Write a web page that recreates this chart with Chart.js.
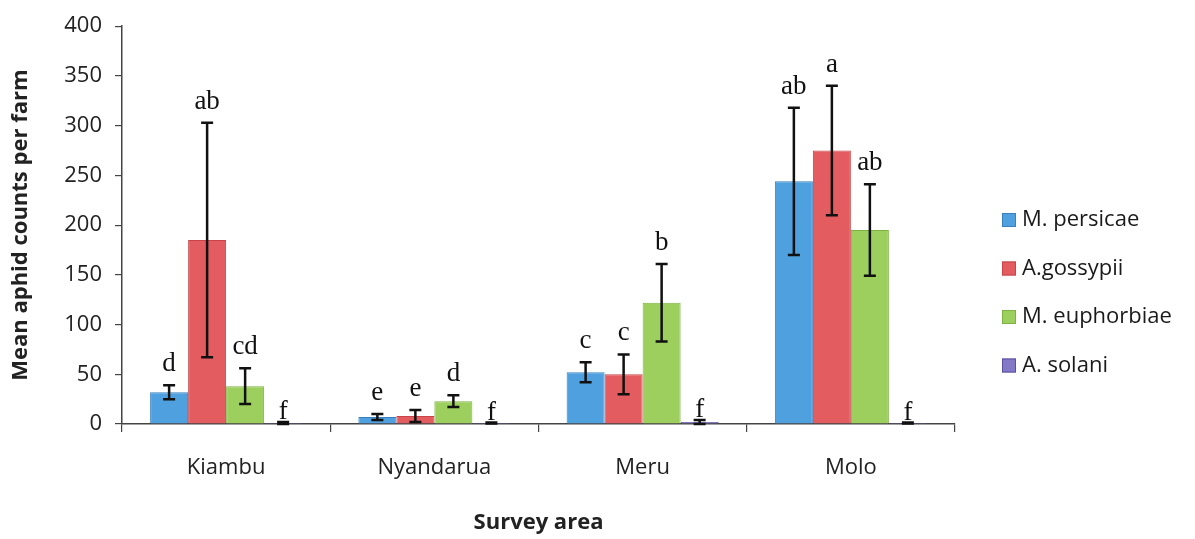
<!DOCTYPE html>
<html>
<head>
<meta charset="utf-8">
<script src="https://cdn.jsdelivr.net/npm/chart.js@4/dist/chart.umd.min.js"></script>
<style>
  html, body { margin: 0; padding: 0; background: #fff; }
  #wrap { width: 1195px; height: 539px; }
</style>
</head>
<body>
<div id="wrap"><canvas id="c" width="1195" height="539"></canvas></div>
<script>
// Survey areas
const categories = ['Kiambu', 'Nyandarua', 'Meru', 'Molo'];

// Mean aphid counts per farm by species
const persicae   = [32, 7, 52, 244];
const gossypii   = [185, 8, 50, 275];
const euphorbiae = [38, 23, 122, 195];
const solani     = [1, 1, 2, 1];

// Standard errors
const persicaeErr   = [7, 3, 10, 74];
const gossypiiErr   = [118, 6, 20, 65];
const euphorbiaeErr = [18, 6, 39, 46];
const solaniErr     = [1, 0.5, 2, 0.5];

// Mean separation letters
const persicaeLetters   = ['d', 'e', 'c', 'ab'];
const gossypiiLetters   = ['ab', 'e', 'c', 'a'];
const euphorbiaeLetters = ['cd', 'd', 'b', 'ab'];
const solaniLetters     = ['f', 'f', 'f', 'f'];

// Y axis ticks
const yTicks = [0, 50, 100, 150, 200, 250, 300, 350, 400];

const SANS = '"Open Sans", Lato, sans-serif';
const SERIF = '"Liberation Serif", "DejaVu Serif", serif';

function series(label, data, err, letters, fill, edge, gap) {
  return {
    label, data, err, letters, gap,
    backgroundColor: fill,
    borderColor: edge,
    borderWidth: 1,
    categoryPercentage: 0.73,
    barPercentage: 1.0
  };
}

const datasets = [
  series('M. persicae', persicae, persicaeErr, persicaeLetters, '#4fa0de', '#3a80bf', 14),
  series('A.gossypii', gossypii, gossypiiErr, gossypiiLetters, '#e25c60', '#c84448', 14),
  series('M. euphorbiae', euphorbiae, euphorbiaeErr, euphorbiaeLetters, '#9ccf5e', '#7fb245', 14),
  series('A. solani', solani, solaniErr, solaniLetters, '#8479c6', '#5a4fa0', 3)
];

// Error bars and letters above each bar
const errorBars = {
  id: 'errorBars',
  afterDatasetsDraw(chart) {
    const ctx = chart.ctx;
    const y = chart.scales.y;
    ctx.save();
    chart.data.datasets.forEach((ds, di) => {
      const meta = chart.getDatasetMeta(di);
      meta.data.forEach((bar, i) => {
        const v = ds.data[i], e = ds.err[i];
        const yTop = y.getPixelForValue(v + e);
        const yBot = y.getPixelForValue(Math.max(v - e, 0));
        const x = bar.x;
        ctx.strokeStyle = '#111';
        ctx.lineWidth = 2.5;
        ctx.beginPath();
        ctx.moveTo(x, yTop); ctx.lineTo(x, yBot);
        ctx.moveTo(x - 6, yTop); ctx.lineTo(x + 6, yTop);
        ctx.moveTo(x - 6, yBot); ctx.lineTo(x + 6, yBot);
        ctx.stroke();
        ctx.fillStyle = '#111';
        ctx.font = '27px ' + SERIF;
        ctx.textAlign = 'center';
        ctx.textBaseline = 'alphabetic';
        ctx.fillText(ds.letters[i], x, yTop - ds.gap);
      });
    });
    ctx.restore();
  }
};

// Legend column on the right
const sideLegend = {
  id: 'sideLegend',
  afterDraw(chart) {
    const ctx = chart.ctx;
    ctx.save();
    chart.data.datasets.forEach((ds, i) => {
      const cy = 220 + i * 48.5;
      ctx.fillStyle = ds.backgroundColor;
      ctx.fillRect(1002, cy - 7, 14, 14);
      ctx.strokeStyle = ds.borderColor;
      ctx.lineWidth = 1;
      ctx.strokeRect(1002.5, cy - 6.5, 13, 13);
      ctx.fillStyle = '#1a1a1a';
      ctx.font = '22px ' + SANS;
      ctx.textAlign = 'left';
      ctx.textBaseline = 'middle';
      ctx.fillText(ds.label, 1022, cy);
    });
    ctx.restore();
  }
};

new Chart(document.getElementById('c'), {
  type: 'bar',
  data: { labels: categories, datasets },
  options: {
    responsive: false,
    animation: false,
    layout: { padding: { top: 24, right: 240, left: 0, bottom: 0 } },
    plugins: {
      legend: { display: false },
      tooltip: { enabled: false }
    },
    scales: {
      x: {
        afterFit(s) { s.height = 115; },
        grid: { display: true, drawOnChartArea: false, offset: true, tickLength: 8, color: '#444', lineWidth: 1.2 },
        border: { display: true, color: '#444', width: 1.5 },
        ticks: { padding: 23, color: '#222', font: { family: SANS, size: 22 } },
        title: { display: true, text: 'Survey area', color: '#222', padding: { top: 0, bottom: 3 },
                 font: { family: SANS, size: 22, weight: 'bold' } }
      },
      y: {
        min: 0, max: 400,
        afterFit(s) { s.width = 122; },
        afterBuildTicks(s) { s.ticks = yTicks.map(v => ({ value: v })); },
        grid: { display: true, drawOnChartArea: false, tickLength: 7, color: '#444', lineWidth: 1.2 },
        border: { display: true, color: '#444', width: 1.5 },
        ticks: { padding: 13, color: '#222', font: { family: SANS, size: 22 } },
        title: { display: true, text: 'Mean aphid counts per farm', color: '#222', padding: { top: 8, bottom: 0 },
                 font: { family: SANS, size: 22, weight: 'bold' } }
      }
    }
  },
  plugins: [errorBars, sideLegend]
});
</script>
</body>
</html>
